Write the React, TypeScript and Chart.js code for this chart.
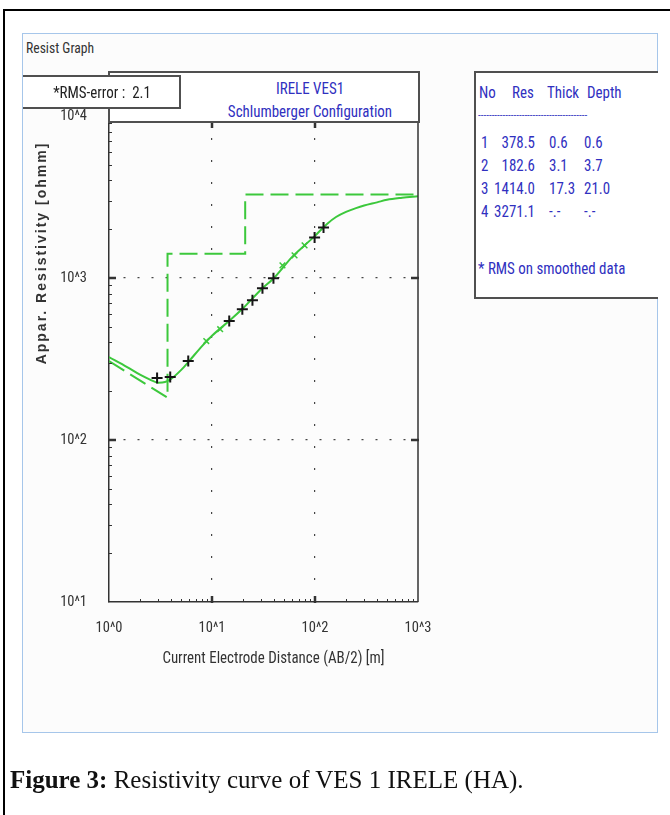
import React, { useEffect, useRef } from 'react';
import { Chart, registerables } from 'chart.js';

Chart.register(...registerables);

// ---------- data ----------
const xTickValues = [1, 10, 100, 1000];
const xTickLabels = ['10^0', '10^1', '10^2', '10^3'];
const yTickValues = [10, 100, 1000, 10000];
const yTickLabels = ['10^1', '10^2', '10^3', '10^4'];

// field data (black +)
const fieldAB2 = [2.93, 3.93, 5.88, 14.7, 19.7, 24.7, 30.9, 39.5, 99.1, 121];
const fieldRho = [241, 245, 307, 542, 642, 729, 864, 995, 1779, 2051];

// smoothed data (green x)
const smoothAB2 = [8.8, 12.0, 48.3, 63.3, 79.2];
const smoothRho = [408, 483, 1197, 1379, 1589];

// calculated curve (solid green)
const calcAB2 = [1, 1.5, 2, 2.5, 3, 3.5, 4, 5, 6, 8, 10, 15, 20, 30, 40, 60, 80, 100, 130, 160, 200, 250, 300, 400, 500, 700, 1000];
const calcRho = [325, 282, 253, 236, 226, 228, 238, 270, 307, 380, 440, 550, 650, 850, 1000, 1350, 1600, 1820, 2150, 2380, 2560, 2700, 2800, 2930, 3040, 3130, 3200];

// layered model (dashed green)
const modelAB2 = [1, 3.7, 3.7, 21.0, 21.0, 1000];
const modelRho = [307, 182.6, 1414.0, 1414.0, 3271.1, 3271.1];

// table
const layerNo = ['1', '2', '3', '4'];
const layerRes = ['378.5', '182.6', '1414.0', '3271.1'];
const layerThick = ['0.6', '3.1', '17.3', '-.-'];
const layerDepth = ['0.6', '3.7', '21.0', '-.-'];

// ---------- styles ----------
const NARROW = '"Roboto Condensed", "Liberation Sans", Arial, sans-serif';
const GREEN = '#3cc83c';
const BLUE = '#3030c0';
const BOXLINE = '#505050';
const SQ = 0.88;

const toPts = (xs: number[], ys: number[]) => xs.map((x, i) => ({ x, y: ys[i] }));

const framePlugin = {
  id: 'frame',
  afterDatasetsDraw(chart: any) {
    const { ctx, chartArea: a, scales } = chart;
    const x = scales.x;
    const y = scales.y;
    const line = (x1: number, y1: number, x2: number, y2: number) => {
      ctx.beginPath();
      ctx.moveTo(x1, y1);
      ctx.lineTo(x2, y2);
      ctx.stroke();
    };
    ctx.save();
    ctx.strokeStyle = '#333';
    ctx.lineWidth = 1.5;
    line(a.right, a.top, a.right, a.bottom);
    // minor ticks
    ctx.lineWidth = 1;
    for (let d = 1; d < 1000; d *= 10) {
      for (let k = 2; k <= 9; k++) {
        const px = Math.round(x.getPixelForValue(k * d)) + 0.5;
        line(px, a.bottom, px, a.bottom - 3);
      }
    }
    for (let d = 10; d < 10000; d *= 10) {
      for (let k = 2; k <= 9; k++) {
        const py = Math.round(y.getPixelForValue(k * d)) + 0.5;
        line(a.left, py, a.left + 3, py);
      }
    }
    // major ticks
    ctx.lineWidth = 2.5;
    xTickValues.slice(1, -1).forEach((v) => {
      const px = x.getPixelForValue(v);
      line(px, a.bottom + 1, px, a.bottom - 6);
      line(px, a.top, px, a.top + 12);
    });
    yTickValues.slice(1, -1).forEach((v) => {
      const py = y.getPixelForValue(v);
      line(a.left - 1, py, a.left + 7, py);
      line(a.right - 7, py, a.right + 1, py);
    });
    ctx.restore();
  },
  afterDraw(chart: any) {
    const { ctx, chartArea: a } = chart;
    ctx.save();
    ctx.fillStyle = '#333';
    ctx.textAlign = 'center';
    ctx.textBaseline = 'middle';
    ctx.font = `17px ${NARROW}`;
    ctx.save();
    ctx.translate((a.left + a.right) / 2 + 10, a.bottom + 57);
    ctx.scale(SQ, 1);
    ctx.fillText('Current Electrode Distance (AB/2) [m]', 0, 0);
    ctx.restore();
    ctx.translate(a.left - 67, a.top + 137);
    ctx.rotate(-Math.PI / 2);
    ctx.font = `bold 14px "Liberation Sans", Arial, sans-serif`;
    (ctx as any).letterSpacing = '2px';
    ctx.fillText('Appar. Resistivity [ohmm]', 0, 0);
    ctx.restore();
  },
};

export default function App() {
  const ref = useRef<HTMLCanvasElement | null>(null);

  useEffect(() => {
    const canvas = ref.current;
    if (!canvas) return;
    const tickFont = { family: NARROW, size: 14.5 };
    const chart = new Chart(canvas, {
      type: 'scatter',
      data: {
        datasets: [
          {
            label: 'Field data',
            data: toPts(fieldAB2, fieldRho),
            showLine: false,
            pointStyle: 'cross',
            pointRadius: 5.5,
            borderColor: '#151515',
            borderWidth: 2,
            order: 0,
          },
          {
            label: 'Smoothed data',
            data: toPts(smoothAB2, smoothRho),
            showLine: false,
            pointStyle: 'crossRot',
            pointRadius: 4,
            borderColor: GREEN,
            borderWidth: 1.5,
            order: 1,
          },
          {
            label: 'Calculated',
            data: toPts(calcAB2, calcRho),
            showLine: true,
            borderColor: GREEN,
            borderWidth: 2,
            pointRadius: 0,
            cubicInterpolationMode: 'monotone',
            order: 2,
          },
          {
            label: 'Model',
            data: toPts(modelAB2, modelRho),
            showLine: true,
            borderColor: GREEN,
            borderWidth: 2,
            borderDash: [18, 7],
            pointRadius: 0,
            order: 3,
          },
        ],
      } as any,
      options: {
        animation: false,
        responsive: false,
        maintainAspectRatio: false,
        layout: { padding: { top: 116, left: 0, right: 252, bottom: 0 } },
        plugins: { legend: { display: false }, tooltip: { enabled: false } },
        scales: {
          x: {
            type: 'logarithmic',
            position: 'bottom',
            min: 1,
            max: 1000,
            afterBuildTicks: (s: any) => {
              s.ticks = xTickValues.map((v) => ({ value: v, major: true }));
            },
            afterFit: (s: any) => {
              s.height = 213;
            },
            ticks: {
              autoSkip: false,
              maxRotation: 0,
              padding: 18,
              color: '#333',
              font: tickFont,
              callback: (_v: any, i: number) => xTickLabels[i],
            },
            grid: {
              drawTicks: false,
              lineWidth: 1.2,
              color: (c: any) => (c.tick && (c.tick.value === 1 || c.tick.value === 1000) ? 'transparent' : '#444'),
            },
            border: { display: true, color: '#333', width: 1.5, dash: [2, 20] },
          },
          y: {
            type: 'logarithmic',
            position: 'left',
            min: 10,
            max: 10000,
            afterBuildTicks: (s: any) => {
              s.ticks = yTickValues.map((v) => ({ value: v, major: true }));
            },
            afterFit: (s: any) => {
              s.width = 109;
            },
            ticks: {
              autoSkip: false,
              padding: 22,
              color: '#333',
              font: tickFont,
              callback: (_v: any, i: number) => yTickLabels[i],
            },
            grid: {
              drawTicks: false,
              lineWidth: 1.2,
              color: (c: any) => (c.tick && (c.tick.value === 10 || c.tick.value === 10000) ? 'transparent' : '#444'),
            },
            border: { display: true, color: '#333', width: 1.5, dash: [2, 12] },
          },
        },
      } as any,
      plugins: [framePlugin],
    });
    return () => chart.destroy();
  }, []);

  const abs = (o: React.CSSProperties): React.CSSProperties => ({ position: 'absolute', ...o });
  const sq = (origin: string): React.CSSProperties => ({ transform: `scaleX(${SQ})`, transformOrigin: origin });
  const tableFont: React.CSSProperties = { fontFamily: NARROW, fontSize: 17, color: BLUE, lineHeight: '20px', whiteSpace: 'pre' };
  const rowY = [132, 155, 178, 201];

  return (
    <div style={{ position: 'fixed', left: 0, top: 0, width: 670, height: 815, background: '#fff', overflow: 'hidden' }}>
      {/* outer frame */}
      <div style={abs({ left: 3, top: 9, width: 720, height: 900, border: '2px solid #000' })} />
      {/* panel */}
      <div style={abs({ left: 22, top: 33, width: 634, height: 698, border: '1.5px solid #a6c6ea', background: '#fcfcfc' })} />
      <div style={abs({ left: 26, top: 39, fontFamily: NARROW, fontSize: 15.5, lineHeight: '18px', color: '#333', ...sq('left center') })}>Resist Graph</div>

      <canvas ref={ref} width={670} height={815} style={abs({ left: 0, top: 0, width: 670, height: 815 })} />

      {/* title box */}
      <div style={abs({ left: 108, top: 71, width: 308, height: 48, border: `2px solid ${BOXLINE}`, background: '#fff' })} />
      <div style={abs({ left: 200, top: 79, width: 220, textAlign: 'center', fontFamily: NARROW, fontSize: 17, lineHeight: '18px', color: BLUE, ...sq('center center') })}>IRELE VES1</div>
      <div style={abs({ left: 200, top: 102, width: 220, textAlign: 'center', fontFamily: NARROW, fontSize: 17, lineHeight: '18px', color: BLUE, ...sq('center center') })}>Schlumberger Configuration</div>

      {/* RMS box */}
      <div style={abs({ left: 23, top: 75, width: 156, height: 30, borderTop: `2px solid ${BOXLINE}`, borderBottom: `2px solid ${BOXLINE}`, borderRight: `2px solid ${BOXLINE}`, background: '#fff' })} />
      <div style={abs({ left: 23, top: 83, width: 158, textAlign: 'center', fontFamily: NARROW, fontSize: 17, lineHeight: '18px', color: '#222', whiteSpace: 'pre', ...sq('center center') })}>{'*RMS-error :  2.1'}</div>

      {/* table box */}
      <div style={abs({ left: 474, top: 71, width: 182, height: 224, borderTop: `2px solid ${BOXLINE}`, borderBottom: `2px solid ${BOXLINE}`, borderLeft: `2px solid ${BOXLINE}`, background: '#fff' })} />
      <div style={abs({ left: 479, top: 82, ...tableFont, ...sq('left center') })}>No</div>
      <div style={abs({ left: 512, top: 82, ...tableFont, ...sq('left center') })}>Res</div>
      <div style={abs({ left: 547, top: 82, ...tableFont, ...sq('left center') })}>Thick</div>
      <div style={abs({ left: 587, top: 82, ...tableFont, ...sq('left center') })}>Depth</div>
      <div style={abs({ left: 478, top: 110, fontFamily: NARROW, fontSize: 11, lineHeight: '12px', color: BLUE, whiteSpace: 'pre' })}>{'-'.repeat(40)}</div>
      {layerNo.map((n, i) => (
        <React.Fragment key={n}>
          <div style={abs({ left: 481, top: rowY[i], ...tableFont, ...sq('left center') })}>{n}</div>
          <div style={abs({ left: 475, top: rowY[i], width: 60, textAlign: 'right', ...tableFont, ...sq('right center') })}>{layerRes[i]}</div>
          <div style={abs({ left: 549, top: rowY[i], ...tableFont, ...sq('left center') })}>{layerThick[i]}</div>
          <div style={abs({ left: 584, top: rowY[i], ...tableFont, ...sq('left center') })}>{layerDepth[i]}</div>
        </React.Fragment>
      ))}
      <div style={abs({ left: 478, top: 258, ...tableFont, ...sq('left center') })}>* RMS on smoothed data</div>

      {/* caption */}
      <div style={abs({ left: 10, top: 765, fontFamily: '"Liberation Serif", "Times New Roman", serif', fontSize: 25, lineHeight: '30px', color: '#111', whiteSpace: 'pre' })}>
        <b>Figure 3:</b> Resistivity curve of VES 1 IRELE (HA).
      </div>
    </div>
  );
}
